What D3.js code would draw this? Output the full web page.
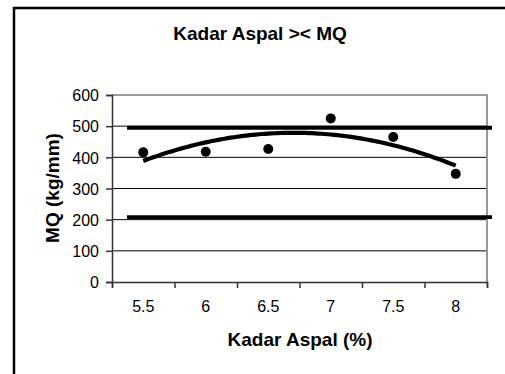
<!DOCTYPE html>
<meta charset="utf-8">
<style>
  body { margin: 0; background: #fff; }
  text { font-family: "Liberation Sans", Arial, sans-serif; fill: #000; }
</style>
<svg width="505" height="374"></svg>
<script src="https://cdn.jsdelivr.net/npm/d3@7/dist/d3.min.js"></script>
<script>
  // data
  var kadar = [5.5, 6, 6.5, 7, 7.5, 8];                 // kadar aspal (%)
  var mq = [416, 418, 427, 525, 465, 347];               // MQ (kg/mm)
  var yTicks = [0, 100, 200, 300, 400, 500, 600];
  var batas = [495, 208];                                // garis batas
  var batasX = [5.37, 8.29];

  var svg = d3.select("svg");
  var margin = {top: 95, right: 18, bottom: 92, left: 112};
  var width = 487 - margin.left;
  var height = 282 - margin.top;

  // bingkai luar
  svg.append("path")
      .attr("d", "M14,374 V8 H505")
      .attr("fill", "none")
      .attr("stroke", "#000")
      .attr("stroke-width", 2.5);

  svg.append("text")
      .attr("x", 260).attr("y", 40)
      .attr("text-anchor", "middle")
      .attr("font-weight", "bold")
      .attr("font-size", 19)
      .text("Kadar Aspal >< MQ");

  var g = svg.append("g").attr("transform", "translate(" + margin.left + "," + margin.top + ")");

  var x = d3.scaleLinear().domain([5.25, 8.25]).range([0, width]);
  var y = d3.scaleLinear().domain([0, 600]).range([height, 0]);

  // grid
  g.append("g").selectAll("line")
      .data(yTicks.slice(1, -1))
      .enter().append("line")
        .attr("x1", 0).attr("x2", width)
        .attr("y1", function(d) { return y(d); })
        .attr("y2", function(d) { return y(d); })
        .attr("stroke", "#000").attr("stroke-width", 1);

  // bingkai plot (atas & kanan)
  g.append("path")
      .attr("d", "M0," + y(600) + " H" + width + " V" + height)
      .attr("fill", "none")
      .attr("stroke", "#999")
      .attr("stroke-width", 2);

  // sumbu y
  var ay = g.append("g")
      .call(d3.axisLeft(y).tickValues(yTicks).tickSize(6).tickPadding(7));
  ay.attr("font-size", null).attr("font-family", null);
  ay.selectAll("text").style("font-size", "16px").attr("dy", "0.36em");
  ay.selectAll("line, path").attr("stroke", "#333").attr("stroke-width", 1.5);

  // sumbu x (kategori)
  var bounds = d3.range(kadar.length + 1).map(function(i) { return 5.25 + i * 0.5; });
  var ax = g.append("g")
      .attr("transform", "translate(0," + height + ")")
      .call(d3.axisBottom(x).tickValues(bounds).tickSize(6).tickFormat(""));
  ax.selectAll("line, path").attr("stroke", "#333").attr("stroke-width", 1.5);

  g.append("g").selectAll("text")
      .data(kadar)
      .enter().append("text")
        .attr("x", function(d) { return x(d); })
        .attr("y", height + 30)
        .attr("text-anchor", "middle")
        .style("font-size", "16px")
        .text(function(d) { return d; });

  // garis batas
  g.append("g").selectAll("line")
      .data(batas)
      .enter().append("line")
        .attr("x1", x(batasX[0])).attr("x2", x(batasX[1]))
        .attr("y1", function(d) { return y(d); })
        .attr("y2", function(d) { return y(d); })
        .attr("stroke", "#000").attr("stroke-width", 3.8);

  // trendline polinomial orde 2 (kuadrat terkecil)
  var n = mq.length;
  var t = d3.range(n).map(function(i) { return i - (n - 1) / 2; });
  var sy = d3.sum(mq), st2 = d3.sum(t, function(v) { return v * v; });
  var st4 = d3.sum(t, function(v) { return v * v * v * v; });
  var sty = d3.sum(t, function(v, i) { return v * mq[i]; });
  var st2y = d3.sum(t, function(v, i) { return v * v * mq[i]; });
  var b = sty / st2;
  var c = (st2y - st2 * sy / n) / (st4 - st2 * st2 / n);
  var a = (sy - c * st2) / n;
  var trend = d3.range(0, n - 1 + 0.001, 0.05).map(function(i) {
    var tt = i - (n - 1) / 2;
    return [kadar[0] + i * 0.5, a + b * tt + c * tt * tt];
  });
  g.append("path")
      .datum(trend)
      .attr("fill", "none")
      .attr("stroke", "#000")
      .attr("stroke-width", 4.2)
      .attr("d", d3.line()
        .x(function(d) { return x(d[0]); })
        .y(function(d) { return y(d[1]); }));

  // titik data
  g.append("g").selectAll("circle")
      .data(kadar)
      .enter().append("circle")
        .attr("cx", function(d) { return x(d); })
        .attr("cy", function(d, i) { return y(mq[i]); })
        .attr("r", 5)
        .attr("fill", "#000");

  // judul sumbu
  svg.append("text")
      .attr("x", 300).attr("y", 346)
      .attr("text-anchor", "middle")
      .attr("font-weight", "bold")
      .attr("font-size", 19)
      .text("Kadar Aspal (%)");

  svg.append("text")
      .attr("transform", "translate(59,188) rotate(-90)")
      .attr("text-anchor", "middle")
      .attr("font-weight", "bold")
      .attr("font-size", 19)
      .text("MQ (kg/mm)");
</script>
